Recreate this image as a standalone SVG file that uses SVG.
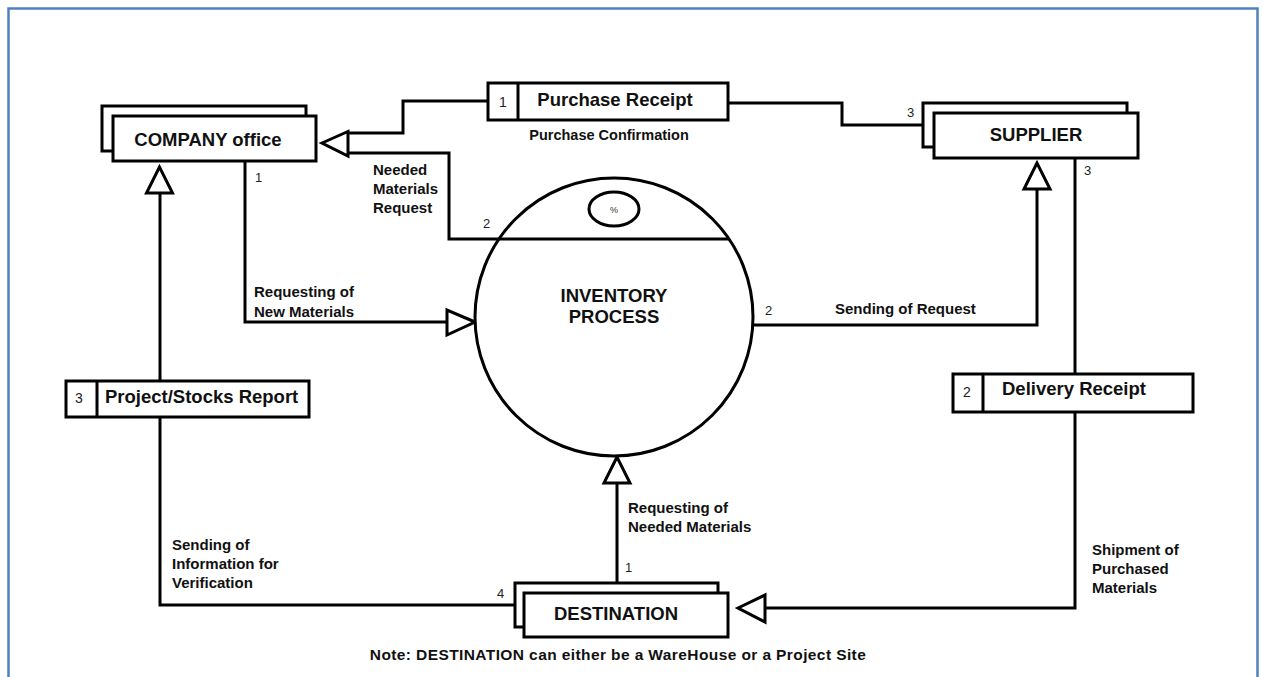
<svg xmlns="http://www.w3.org/2000/svg" width="1263" height="677" viewBox="0 0 1263 677">
<style>
.box{fill:#fff;stroke:#000;stroke-width:3}
.ln{fill:none;stroke:#000;stroke-width:3}
.arrow{fill:#fff;stroke:#000;stroke-width:3;stroke-linejoin:miter}
.title{font-family:"Liberation Sans",Arial,sans-serif;font-weight:bold;font-size:18.5px;fill:#111}
.lbl{font-family:"Liberation Sans",Arial,sans-serif;font-weight:bold;font-size:15px;fill:#111}
.num{font-family:"Liberation Sans",Arial,sans-serif;font-size:13px;fill:#222}
</style>
<rect x="0" y="0" width="1263" height="677" fill="#fff"/>
<rect x="8.5" y="8.5" width="1249" height="690" fill="none" stroke="#4f81bd" stroke-width="2.5"/>

<g id="connectors">
  <polyline class="ln" points="488,101 403,101 403,133 348,133"/>
  <polyline class="ln" points="499,239 449,239 449,153 348,153"/>
  <polygon class="arrow" points="322,143 348,131.5 348,156"/>
  <polyline class="ln" points="728,103 842,103 842,125 923,125"/>
  <polyline class="ln" points="245,161 245,322 447,322"/>
  <polygon class="arrow" points="475,322 447,310 447,335"/>
  <polyline class="ln" points="753,325 1037,325 1037,189"/>
  <polygon class="arrow" points="1037,163 1024,189 1050,189"/>
  <line class="ln" x1="1075" y1="158" x2="1075" y2="374"/>
  <polyline class="ln" points="1075,412 1075,608 765,608"/>
  <polygon class="arrow" points="738,608 765,595 765,622"/>
  <line class="ln" x1="617" y1="583" x2="617" y2="483"/>
  <polygon class="arrow" points="617,457 604,483 630,483"/>
  <polyline class="ln" points="515,605 160,605 160,417"/>
  <line class="ln" x1="160" y1="381" x2="160" y2="193"/>
  <polygon class="arrow" points="159.5,167 146.5,193 172.5,193"/>

  <text class="num" x="907" y="117">3</text>
  <text class="num" x="1084" y="175">3</text>
  <text class="num" x="255" y="182">1</text>
  <text class="num" x="483" y="228">2</text>
  <text class="num" x="765" y="315">2</text>
  <text class="num" x="497" y="598">4</text>
  <text class="num" x="625" y="572">1</text>

  <text class="lbl" x="373" y="175">Needed</text>
  <text class="lbl" x="373" y="194">Materials</text>
  <text class="lbl" x="373" y="213">Request</text>
  <text class="lbl" x="254" y="297">Requesting of</text>
  <text class="lbl" x="254" y="317">New Materials</text>
  <text class="lbl" x="835" y="314">Sending of Request</text>
  <text class="lbl" x="628" y="513">Requesting of</text>
  <text class="lbl" x="628" y="532">Needed Materials</text>
  <text class="lbl" x="172" y="550">Sending of</text>
  <text class="lbl" x="172" y="569">Information for</text>
  <text class="lbl" x="172" y="588">Verification</text>
  <text class="lbl" x="1092" y="555">Shipment of</text>
  <text class="lbl" x="1092" y="574">Purchased</text>
  <text class="lbl" x="1092" y="593">Materials</text>
  <text class="lbl" x="609" y="140" text-anchor="middle" style="font-size:14.5px">Purchase Confirmation</text>
</g>

<g id="company-office">
  <rect class="box" x="102" y="106" width="204" height="45"/>
  <rect class="box" x="113" y="116" width="203" height="45"/>
  <text class="title" x="208" y="146" text-anchor="middle">COMPANY office</text>
</g>

<g id="supplier">
  <rect class="box" x="923" y="103" width="204" height="44"/>
  <rect class="box" x="934" y="113" width="204" height="45"/>
  <text class="title" x="1036" y="141" text-anchor="middle">SUPPLIER</text>
</g>

<g id="destination">
  <rect class="box" x="515" y="583" width="203" height="44"/>
  <rect class="box" x="524" y="593" width="204" height="44"/>
  <text class="title" x="554" y="620">DESTINATION</text>
</g>

<g id="inventory-process">
  <circle class="box" cx="614" cy="317" r="139"/>
  <line class="ln" x1="499" y1="239" x2="729" y2="239"/>
  <ellipse class="box" cx="614" cy="209" rx="25" ry="17"/>
  <text x="614" y="213" text-anchor="middle" style="font-family:'Liberation Sans',Arial,sans-serif;font-size:9px;fill:#333">%</text>
  <text class="title" x="614" y="302" text-anchor="middle">INVENTORY</text>
  <text class="title" x="614" y="323" text-anchor="middle">PROCESS</text>
</g>

<g id="purchase-receipt">
  <rect class="box" x="488" y="83" width="240" height="37"/>
  <line class="ln" x1="518" y1="83" x2="518" y2="120"/>
  <text class="num" x="503" y="107" text-anchor="middle" style="font-size:14px">1</text>
  <text class="title" x="615" y="106" text-anchor="middle">Purchase Receipt</text>
</g>

<g id="project-stocks-report">
  <rect class="box" x="66" y="381" width="243" height="36"/>
  <line class="ln" x1="97" y1="381" x2="97" y2="417"/>
  <text class="num" x="79" y="403" text-anchor="middle" style="font-size:14px">3</text>
  <text class="title" x="105" y="403">Project/Stocks Report</text>
</g>

<g id="delivery-receipt">
  <rect class="box" x="953" y="374" width="240" height="38"/>
  <line class="ln" x1="983" y1="374" x2="983" y2="412"/>
  <text class="num" x="967" y="397" text-anchor="middle" style="font-size:14px">2</text>
  <text class="title" x="1002" y="395">Delivery Receipt</text>
</g>

<g id="note">
  <text class="lbl" x="618" y="660" text-anchor="middle" style="font-size:15.5px;letter-spacing:0.4px">Note: DESTINATION can either be a WareHouse or a Project Site</text>
</g>
</svg>
